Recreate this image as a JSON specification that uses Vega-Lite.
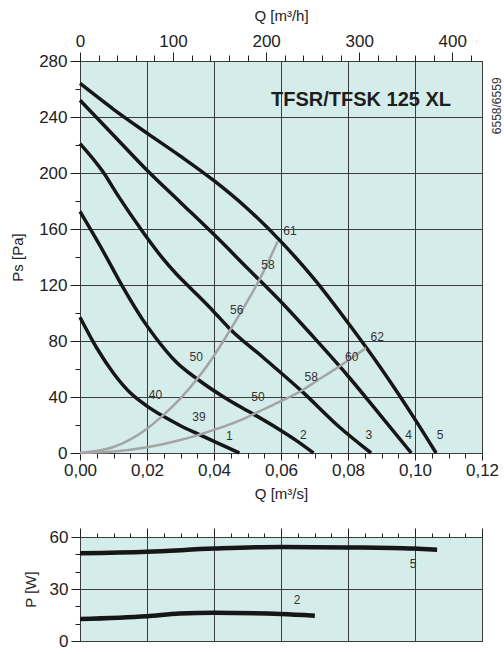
{
  "$schema": "https://vega.github.io/schema/vega-lite/v6.json",
  "padding": {"left": 10, "top": 7, "right": 0, "bottom": 0},
  "background": "white",
  "config": {
    "font": "Liberation Sans",
    "view": {"stroke": "#111111", "strokeWidth": 1, "fill": "#d5edea"},
    "axis": {"labelFont": "Liberation Sans", "labelFontSize": 17, "labelColor": "#222222", "titleFont": "Liberation Sans", "titleFontSize": 15, "titleFontWeight": "normal", "titleColor": "#222222", "tickColor": "#222222", "tickWidth": 1, "domain": false, "gridColor": "#3c3c3c", "gridWidth": 1, "gridOpacity": 1, "labelFlush": false, "labelOverlap": false},
    "concat": {"spacing": 25}
  },
  "datasets": {
    "fan": [
      {"curve": "1", "Q": 0, "Pa": 97}, {"curve": "1", "Q": 0.005, "Pa": 75}, {"curve": "1", "Q": 0.01, "Pa": 57}, {"curve": "1", "Q": 0.015, "Pa": 43}, {"curve": "1", "Q": 0.02, "Pa": 33.5}, {"curve": "1", "Q": 0.025, "Pa": 26}, {"curve": "1", "Q": 0.03, "Pa": 19.5}, {"curve": "1", "Q": 0.035, "Pa": 13.8}, {"curve": "1", "Q": 0.04, "Pa": 8.3}, {"curve": "1", "Q": 0.0476, "Pa": 0},
      {"curve": "2", "Q": 0, "Pa": 172.5}, {"curve": "2", "Q": 0.0068, "Pa": 144.6}, {"curve": "2", "Q": 0.0128, "Pa": 118.4}, {"curve": "2", "Q": 0.0185, "Pa": 96}, {"curve": "2", "Q": 0.0227, "Pa": 82}, {"curve": "2", "Q": 0.0287, "Pa": 65}, {"curve": "2", "Q": 0.0352, "Pa": 52.5}, {"curve": "2", "Q": 0.0446, "Pa": 37.5}, {"curve": "2", "Q": 0.0516, "Pa": 28}, {"curve": "2", "Q": 0.059, "Pa": 17.5}, {"curve": "2", "Q": 0.0645, "Pa": 9}, {"curve": "2", "Q": 0.0697, "Pa": 0},
      {"curve": "3", "Q": 0, "Pa": 221}, {"curve": "3", "Q": 0.0068, "Pa": 201}, {"curve": "3", "Q": 0.0113, "Pa": 184}, {"curve": "3", "Q": 0.0183, "Pa": 159.5}, {"curve": "3", "Q": 0.0247, "Pa": 139}, {"curve": "3", "Q": 0.0287, "Pa": 128}, {"curve": "3", "Q": 0.0327, "Pa": 118.4}, {"curve": "3", "Q": 0.0396, "Pa": 101.8}, {"curve": "3", "Q": 0.0446, "Pa": 89}, {"curve": "3", "Q": 0.0546, "Pa": 68.4}, {"curve": "3", "Q": 0.0665, "Pa": 43.5}, {"curve": "3", "Q": 0.0775, "Pa": 18.4}, {"curve": "3", "Q": 0.0869, "Pa": 0},
      {"curve": "4", "Q": 0, "Pa": 252}, {"curve": "4", "Q": 0.01, "Pa": 227}, {"curve": "4", "Q": 0.02, "Pa": 202}, {"curve": "4", "Q": 0.03, "Pa": 179}, {"curve": "4", "Q": 0.04, "Pa": 156}, {"curve": "4", "Q": 0.05, "Pa": 132}, {"curve": "4", "Q": 0.06, "Pa": 108}, {"curve": "4", "Q": 0.07, "Pa": 82}, {"curve": "4", "Q": 0.08, "Pa": 55}, {"curve": "4", "Q": 0.09, "Pa": 26}, {"curve": "4", "Q": 0.0989, "Pa": 0},
      {"curve": "5", "Q": 0, "Pa": 264}, {"curve": "5", "Q": 0.01, "Pa": 245.5}, {"curve": "5", "Q": 0.02, "Pa": 228.5}, {"curve": "5", "Q": 0.03, "Pa": 212}, {"curve": "5", "Q": 0.04, "Pa": 194.5}, {"curve": "5", "Q": 0.05, "Pa": 174.5}, {"curve": "5", "Q": 0.06, "Pa": 151}, {"curve": "5", "Q": 0.07, "Pa": 124}, {"curve": "5", "Q": 0.08, "Pa": 93}, {"curve": "5", "Q": 0.09, "Pa": 60}, {"curve": "5", "Q": 0.1, "Pa": 24}, {"curve": "5", "Q": 0.1063, "Pa": 0}
    ],
    "sys": [
      {"curve": "A", "Q": 0, "Pa": 0}, {"curve": "A", "Q": 0.01, "Pa": 4.3}, {"curve": "A", "Q": 0.02, "Pa": 17.4}, {"curve": "A", "Q": 0.0242, "Pa": 25.6}, {"curve": "A", "Q": 0.03, "Pa": 39}, {"curve": "A", "Q": 0.0352, "Pa": 53.5}, {"curve": "A", "Q": 0.04, "Pa": 69.5}, {"curve": "A", "Q": 0.0446, "Pa": 87}, {"curve": "A", "Q": 0.05, "Pa": 108.5}, {"curve": "A", "Q": 0.0536, "Pa": 124}, {"curve": "A", "Q": 0.059, "Pa": 151},
      {"curve": "B", "Q": 0, "Pa": 0}, {"curve": "B", "Q": 0.01, "Pa": 1}, {"curve": "B", "Q": 0.02, "Pa": 4.1}, {"curve": "B", "Q": 0.03, "Pa": 9.3}, {"curve": "B", "Q": 0.0352, "Pa": 12.8}, {"curve": "B", "Q": 0.04, "Pa": 16.5}, {"curve": "B", "Q": 0.05, "Pa": 25.7}, {"curve": "B", "Q": 0.0516, "Pa": 27.6}, {"curve": "B", "Q": 0.06, "Pa": 37}, {"curve": "B", "Q": 0.0665, "Pa": 45}, {"curve": "B", "Q": 0.07, "Pa": 50.5}, {"curve": "B", "Q": 0.0775, "Pa": 62}, {"curve": "B", "Q": 0.0854, "Pa": 75}
    ],
    "labels": [
      {"t": "40", "Q": 0.0225, "Pa": 41.6}, {"t": "50", "Q": 0.0347, "Pa": 68.4}, {"t": "56", "Q": 0.0468, "Pa": 101.8}, {"t": "58", "Q": 0.0561, "Pa": 134}, {"t": "61", "Q": 0.0627, "Pa": 158.4},
      {"t": "39", "Q": 0.0355, "Pa": 25.6}, {"t": "50", "Q": 0.0531, "Pa": 39.9}, {"t": "58", "Q": 0.069, "Pa": 54.1}, {"t": "60", "Q": 0.0811, "Pa": 68.4}, {"t": "62", "Q": 0.0887, "Pa": 82.7},
      {"t": "1", "Q": 0.0446, "Pa": 12.5}, {"t": "2", "Q": 0.0667, "Pa": 13}, {"t": "3", "Q": 0.0862, "Pa": 13}, {"t": "4", "Q": 0.0981, "Pa": 13}, {"t": "5", "Q": 0.1075, "Pa": 13}
    ],
    "title": [{"t": "TFSR/TFSK 125 XL", "Q": 0.0839, "Pa": 252.5}],
    "code": [{"t": "6558/6559", "Q": 0.1245, "Pa": 248}],
    "power": [
      {"curve": "5", "Q": 0, "P": 50.6}, {"curve": "5", "Q": 0.02, "P": 51.5}, {"curve": "5", "Q": 0.04, "P": 53.3}, {"curve": "5", "Q": 0.06, "P": 54.3}, {"curve": "5", "Q": 0.08, "P": 54.0}, {"curve": "5", "Q": 0.0995, "P": 53.3}, {"curve": "5", "Q": 0.1066, "P": 52.7},
      {"curve": "2", "Q": 0, "P": 12.7}, {"curve": "2", "Q": 0.02, "P": 14.3}, {"curve": "2", "Q": 0.0297, "P": 15.8}, {"curve": "2", "Q": 0.04, "P": 16.3}, {"curve": "2", "Q": 0.06, "P": 15.6}, {"curve": "2", "Q": 0.0701, "P": 14.6}
    ],
    "plabels": [{"t": "5", "Q": 0.0994, "P": 44.4}, {"t": "2", "Q": 0.0648, "P": 23.7}]
  },
  "vconcat": [
    {
      "width": 402,
      "height": 392,
      "layer": [
        {
          "data": {"name": "fan"},
          "mark": {"type": "line", "color": "#161616", "strokeWidth": 3.5, "interpolate": "monotone"},
          "encoding": {
            "x": {"field": "Q", "type": "quantitative", "scale": {"domain": [0, 0.12], "nice": false, "zero": false},
              "axis": {"orient": "bottom", "values": [0, 0.02, 0.04, 0.06, 0.08, 0.1, 0.12], "labelExpr": "replace(format(datum.value, '.2f'), '.', ',')", "tickSize": 7, "labelPadding": 2, "grid": true, "title": "Q [m³/s]", "titlePadding": 8}},
            "y": {"field": "Pa", "type": "quantitative", "scale": {"domain": [0, 280], "nice": false},
              "axis": {"orient": "left", "values": [0, 40, 80, 120, 160, 200, 240, 280], "tickSize": 10, "labelPadding": 3, "grid": true, "title": "Ps [Pa]", "titlePadding": 13}},
            "detail": {"field": "curve", "type": "nominal"}
          }
        },
        {
          "data": {"name": "sys"},
          "mark": {"type": "line", "color": "#a4a4a4", "strokeWidth": 2.5, "interpolate": "monotone"},
          "encoding": {
            "x": {"field": "Q", "type": "quantitative", "scale": {"domain": [0, 0.12], "nice": false, "zero": false},
              "axis": {"orient": "bottom", "values": [0.005, 0.01, 0.015, 0.025, 0.03, 0.035, 0.045, 0.05, 0.055, 0.065, 0.07, 0.075, 0.085, 0.09, 0.095, 0.105, 0.11, 0.115], "labels": false, "tickSize": 5, "grid": false, "title": null}},
            "y": {"field": "Pa", "type": "quantitative", "scale": {"domain": [0, 280], "nice": false},
              "axis": {"orient": "left", "values": [20, 60, 100, 140, 180, 220, 260], "labels": false, "tickSize": 5, "grid": false, "title": null}},
            "detail": {"field": "curve", "type": "nominal"}
          }
        },
        {
          "data": {"name": "labels"},
          "mark": {"type": "text", "fontSize": 12, "color": "#333333", "align": "center", "baseline": "middle"},
          "encoding": {
            "x": {"field": "Q", "type": "quantitative", "scale": {"domain": [0, 0.12], "nice": false, "zero": false},
              "axis": {"orient": "top", "values": [0, 0.0277778, 0.0555556, 0.0833333, 0.1111111], "labelExpr": "format(datum.value * 3600, '.0f')", "tickSize": 9, "labelPadding": 2, "grid": false, "title": "Q [m³/h]", "titlePadding": 9}},
            "y": {"field": "Pa", "type": "quantitative", "scale": {"domain": [0, 280], "nice": false}, "axis": null},
            "text": {"field": "t", "type": "nominal"}
          }
        },
        {
          "data": {"name": "title"},
          "mark": {"type": "text", "fontSize": 20, "fontWeight": "bold", "color": "#1e1e1e", "align": "center", "baseline": "middle"},
          "encoding": {
            "x": {"field": "Q", "type": "quantitative", "scale": {"domain": [0, 0.12], "nice": false, "zero": false},
              "axis": {"orient": "top", "values": [0.0055556, 0.0111111, 0.0166667, 0.0222222, 0.0333333, 0.0388889, 0.0444444, 0.05, 0.0611111, 0.0666667, 0.0722222, 0.0777778, 0.0888889, 0.0944444, 0.1, 0.1055556, 0.1166667], "labels": false, "tickSize": 6, "grid": false, "title": null}},
            "y": {"field": "Pa", "type": "quantitative", "scale": {"domain": [0, 280], "nice": false}, "axis": null},
            "text": {"field": "t", "type": "nominal"}
          }
        },
        {
          "data": {"name": "code"},
          "mark": {"type": "text", "fontSize": 12, "color": "#333333", "angle": 270, "align": "center", "baseline": "middle"},
          "encoding": {
            "x": {"field": "Q", "type": "quantitative", "scale": {"domain": [0, 0.12], "nice": false, "zero": false}, "axis": null},
            "y": {"field": "Pa", "type": "quantitative", "scale": {"domain": [0, 280], "nice": false}, "axis": null},
            "text": {"field": "t", "type": "nominal"}
          }
        }
      ],
      "resolve": {"axis": {"x": "independent", "y": "independent"}}
    },
    {
      "width": 402,
      "height": 104,
      "layer": [
        {
          "data": {"name": "power"},
          "mark": {"type": "line", "color": "#161616", "strokeWidth": 4.5, "interpolate": "monotone"},
          "encoding": {
            "x": {"field": "Q", "type": "quantitative", "scale": {"domain": [0, 0.12], "nice": false, "zero": false},
              "axis": {"orient": "top", "values": [0, 0.02, 0.04, 0.06, 0.08, 0.1, 0.12], "labels": false, "tickSize": 9, "grid": true, "title": null}},
            "y": {"field": "P", "type": "quantitative", "scale": {"domain": [0, 60], "nice": false},
              "axis": {"orient": "left", "values": [0, 30, 60], "tickSize": 9, "labelPadding": 3, "grid": true, "title": "P [W]", "titlePadding": 11}},
            "detail": {"field": "curve", "type": "nominal"}
          }
        },
        {
          "data": {"name": "plabels"},
          "mark": {"type": "text", "fontSize": 12, "color": "#333333", "align": "center", "baseline": "middle"},
          "encoding": {
            "x": {"field": "Q", "type": "quantitative", "scale": {"domain": [0, 0.12], "nice": false, "zero": false},
              "axis": {"orient": "top", "values": [0.005, 0.01, 0.015, 0.025, 0.03, 0.035, 0.045, 0.05, 0.055, 0.065, 0.07, 0.075, 0.085, 0.09, 0.095, 0.105, 0.11, 0.115], "labels": false, "tickSize": 4, "grid": false, "title": null}},
            "y": {"field": "P", "type": "quantitative", "scale": {"domain": [0, 60], "nice": false},
              "axis": {"orient": "left", "values": [10, 20, 40, 50], "labels": false, "tickSize": 5, "grid": false, "title": null}},
            "text": {"field": "t", "type": "nominal"}
          }
        }
      ],
      "resolve": {"axis": {"x": "independent", "y": "independent"}}
    }
  ]
}
